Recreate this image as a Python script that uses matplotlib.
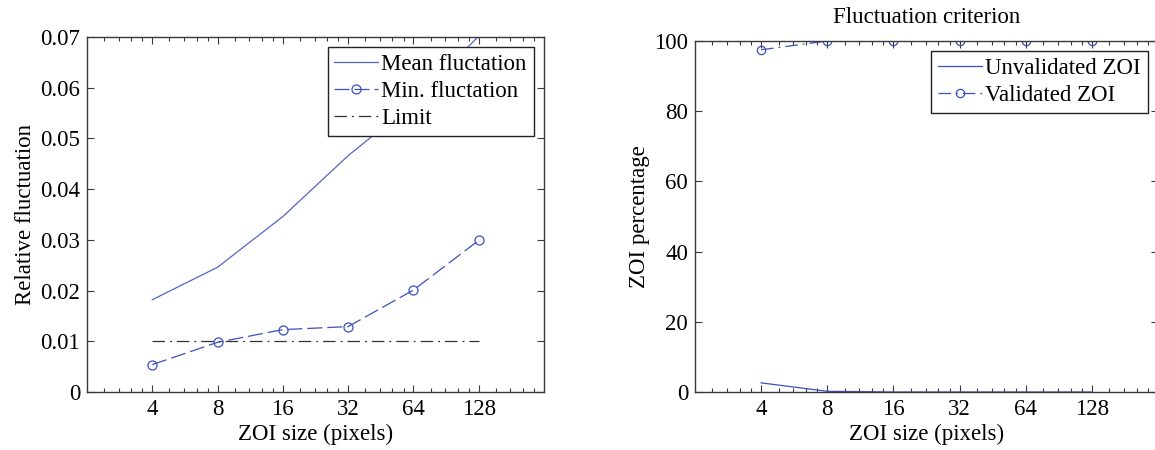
import matplotlib
matplotlib.use('Agg')
import matplotlib.pyplot as plt
from matplotlib.ticker import FixedLocator, LogLocator, NullFormatter

# data
zoi_size = [4, 8, 16, 32, 64, 128]
size_labels = ['4', '8', '16', '32', '64', '128']
mean_fluct = [0.0182, 0.0246, 0.0346, 0.0466, 0.0570, 0.0702]
min_fluct = [0.0054, 0.0098, 0.0123, 0.0129, 0.0201, 0.0299]
limit = [0.01, 0.01, 0.01, 0.01, 0.01, 0.01]
unvalidated = [2.6, 0.2, 0.0, 0.0, 0.0, 0.0]
validated = [97.5, 100.0, 100.0, 100.0, 100.0, 100.0]

plt.rcParams['font.family'] = ['Liberation Serif', 'DejaVu Serif']
FS = 16.5

spine_col = '#3a3a3a'
blue_light = '#5266c6'
blue = '#3d50bb'

fig = plt.figure(figsize=(11.55, 4.5), dpi=100)
W, H = 1155.0, 450.0
ax1 = fig.add_axes([87 / W, 1 - 392 / H, 457 / W, 355 / H])
ax2 = fig.add_axes([695 / W, 1 - 392 / H, 463 / W, 351 / H])


def style_axes(ax):
    ax.set_xscale('log', base=2)
    ax.set_xlim(2, 256)
    ax.xaxis.set_major_locator(FixedLocator(zoi_size))
    ax.set_xticklabels(size_labels)
    ax.xaxis.set_minor_locator(LogLocator(base=2, subs=(1.2, 1.4, 1.6, 1.8), numticks=30))
    ax.xaxis.set_minor_formatter(NullFormatter())
    ax.tick_params(which='both', direction='in', top=True, right=True,
                   color=spine_col, width=0.8)
    ax.tick_params(which='major', length=5, pad=5, labelsize=FS)
    ax.tick_params(which='minor', length=3)
    for sp in ax.spines.values():
        sp.set_color(spine_col)
        sp.set_linewidth(1.0)
    ax.set_xlabel('ZOI size (pixels)', fontsize=FS, labelpad=3)


def make_legend(ax):
    leg = ax.legend(loc='upper right', fontsize=FS, frameon=True, fancybox=False,
                    framealpha=1, edgecolor='#222222', handlelength=1.9,
                    handletextpad=0.15, borderpad=0.3, labelspacing=0.25,
                    borderaxespad=0.45)
    leg.get_frame().set_linewidth(1.0)
    return leg


# Left plot: relative fluctuation
ax1.plot(zoi_size, mean_fluct, '-', color=blue_light, lw=0.9, label='Mean fluctation')
ax1.plot(zoi_size, min_fluct, '--', color=blue, lw=0.9, dashes=(12, 4),
         marker='o', mfc='none', mec=blue, ms=6.5, mew=0.9, label='Min. fluctation')
ax1.plot(zoi_size, limit, '-.', color='#333333', lw=0.9, dashes=(10, 4, 1.5, 4), label='Limit')
style_axes(ax1)
ax1.set_ylim(0, 0.07)
ax1.set_yticks([0, 0.01, 0.02, 0.03, 0.04, 0.05, 0.06, 0.07])
ax1.set_yticklabels(['0', '0.01', '0.02', '0.03', '0.04', '0.05', '0.06', '0.07'])
ax1.set_ylabel('Relative fluctuation', fontsize=FS, labelpad=3)
make_legend(ax1)

# Right plot: ZOI percentage
ax2.plot(zoi_size, unvalidated, '-', color=blue, lw=0.9, label='Unvalidated ZOI')
ax2.plot(zoi_size, validated, '-.', color=blue, lw=0.9, dashes=(10, 4, 1.5, 4),
         marker='o', mfc='none', mec=blue, ms=6, mew=0.9, label='Validated ZOI')
style_axes(ax2)
ax2.set_ylim(0, 100)
ax2.set_yticks([0, 20, 40, 60, 80, 100])
ax2.set_ylabel('ZOI percentage', fontsize=FS, labelpad=3)
ax2.set_title('Fluctuation criterion', fontsize=FS, pad=13)
make_legend(ax2)

fig.savefig('out.png', dpi=100)
